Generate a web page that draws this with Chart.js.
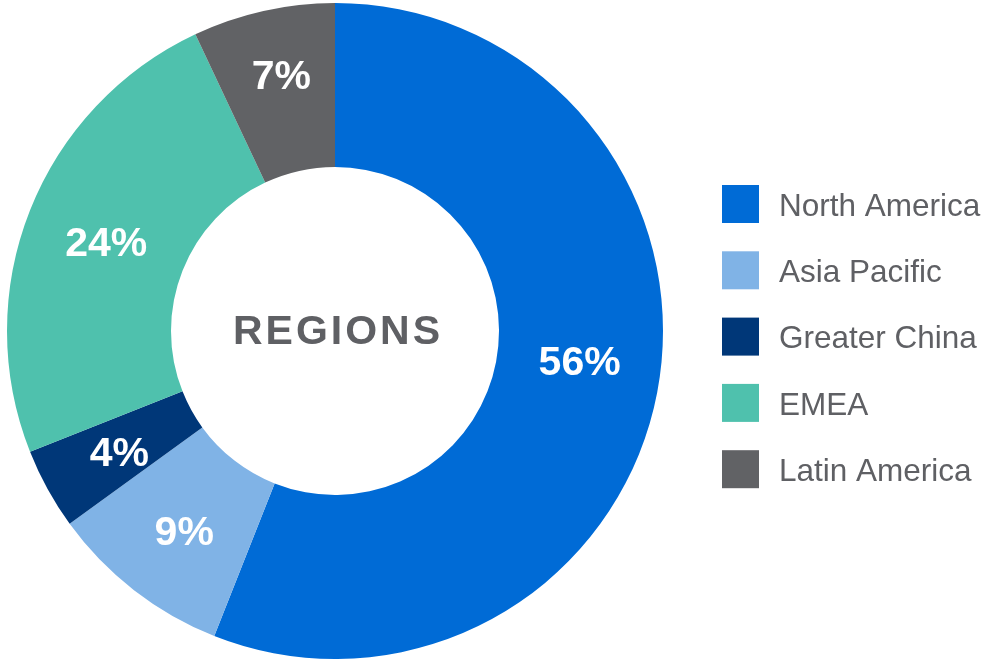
<!DOCTYPE html>
<html>
<head>
<meta charset="utf-8">
<script src="https://cdn.jsdelivr.net/npm/chart.js@4"></script>
<style>
  html, body { margin: 0; padding: 0; background: #fff; }
  #wrap { width: 984px; height: 661px; }
</style>
</head>
<body>
<div id="wrap"><canvas id="grafico-regioni" width="984" height="661"></canvas></div>
<script>
var regioni = ['North America', 'Asia Pacific', 'Greater China', 'EMEA', 'Latin America'];
var percentuali = [56, 9, 4, 24, 7];
var colori = ['#006bd6', '#80b3e6', '#003778', '#4fc1ad', '#616265'];
var titoloCentro = 'REGIONS';

var grigioTesto = '#5f6064';

// etichette percentuali dentro le fette
var pluginEtichette = {
    id: 'etichette',
    afterDatasetsDraw: function (chart) {
        var ctx = chart.ctx;
        var meta = chart.getDatasetMeta(0);
        // piccoli spostamenti come nell'originale
        var spostaX = [3, 0, 0, 0, 0];
        var spostaY = [-13, 8, 5, 4, -13];
        ctx.save();
        ctx.fillStyle = '#ffffff';
        ctx.font = 'bold 41px "Liberation Sans", Arial, sans-serif';
        ctx.textAlign = 'center';
        ctx.textBaseline = 'middle';
        for (var i = 0; i < meta.data.length; i++) {
            var p = meta.data[i].getCenterPoint();
            ctx.fillText(percentuali[i] + '%', p.x + spostaX[i], p.y + spostaY[i]);
        }
        // testo al centro
        var c = meta.data[0];
        ctx.fillStyle = grigioTesto;
        ctx.font = 'bold 41px "Liberation Sans", Arial, sans-serif';
        ctx.letterSpacing = '3px';
        ctx.fillText(titoloCentro, c.x + 3, c.y + 2);
        ctx.restore();
    }
};

// legenda a destra
var pluginLegenda = {
    id: 'legendaDestra',
    afterDraw: function (chart) {
        var ctx = chart.ctx;
        ctx.save();
        ctx.font = '31.5px "Liberation Sans", Arial, sans-serif';
        ctx.textBaseline = 'middle';
        ctx.textAlign = 'left';
        for (var i = 0; i < regioni.length; i++) {
            var y = 185 + i * 66.3;
            ctx.fillStyle = colori[i];
            ctx.fillRect(722, y, 37, 38);
            ctx.fillStyle = grigioTesto;
            ctx.fillText(regioni[i], 779, y + 22);
        }
        ctx.restore();
    }
};

var ctx = document.getElementById('grafico-regioni');
var chart = new Chart(ctx, {
    type: 'doughnut',
    data: {
        labels: regioni,
        datasets: [{
            data: percentuali,
            backgroundColor: colori,
            borderWidth: 0
        }]
    },
    options: {
        responsive: false,
        animation: false,
        cutout: '50%',
        layout: { padding: { left: 7, right: 321, top: 3, bottom: 2 } },
        plugins: {
            legend: { display: false },
            tooltip: { enabled: false }
        }
    },
    plugins: [pluginEtichette, pluginLegenda]
});
</script>
</body>
</html>
